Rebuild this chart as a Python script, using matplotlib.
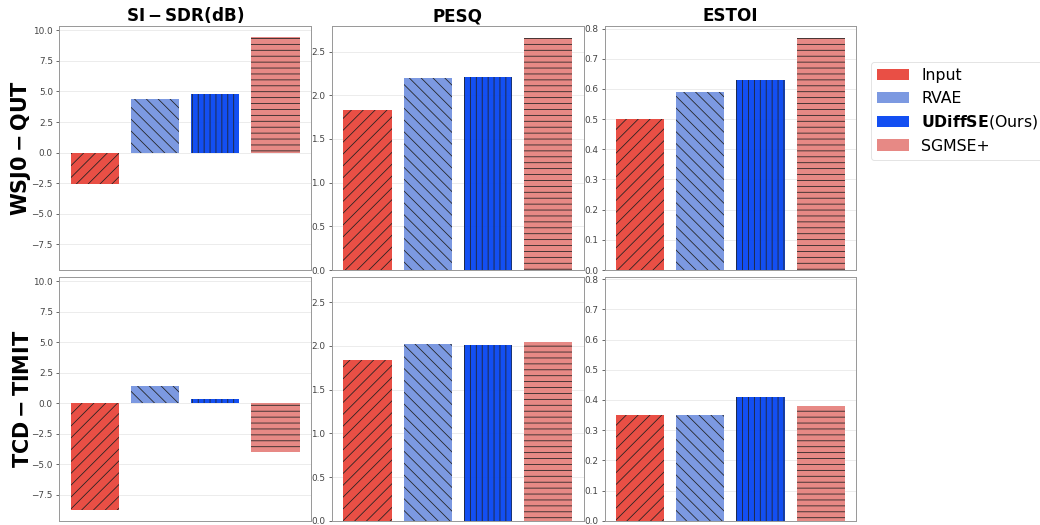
import matplotlib
matplotlib.use('Agg')
import matplotlib.pyplot as plt
from matplotlib.patches import Patch
import numpy as np

methods = ['Input', 'RVAE', 'UDiffSE', 'SGMSE+']
legend_labels = ['Input', 'RVAE', r'$\bf{UDiffSE}$(Ours)', 'SGMSE+']
colors = ['#e8453b', '#7594e0', '#0645f2', '#e6837e']
hatches = ['//', '\\\\', '||', '--']

metrics = [r'$\bf{SI-SDR(dB)}$', 'PESQ', 'ESTOI']
datasets = [r'$\bf{WSJ0-QUT}$', r'$\bf{TCD-TIMIT}$']

# values per dataset, per metric, in method order
wsj_sisdr = [-2.6, 4.4, 4.8, 9.45]
wsj_pesq = [1.83, 2.20, 2.21, 2.66]
wsj_estoi = [0.50, 0.59, 0.63, 0.77]
tcd_sisdr = [-8.7, 1.45, 0.37, -3.95]
tcd_pesq = [1.84, 2.02, 2.01, 2.04]
tcd_estoi = [0.35, 0.35, 0.41, 0.38]

results = [[wsj_sisdr, wsj_pesq, wsj_estoi],
           [tcd_sisdr, tcd_pesq, tcd_estoi]]

plt.rcParams['hatch.linewidth'] = 0.8
plt.rcParams['hatch.color'] = '#222222'

dpi = 71
fig, axes = plt.subplots(2, 3, figsize=(1040 / dpi, 525 / dpi), dpi=dpi, sharey='col')
fig.subplots_adjust(left=0.057, right=0.8234, top=0.9505, bottom=0.0082,
                    wspace=0.083, hspace=0.027)

x = np.arange(len(methods))
for r in range(2):
    for c in range(3):
        ax = axes[r, c]
        vals = results[r][c]
        for i in range(len(methods)):
            ax.bar(x[i], vals[i], width=0.8, color=colors[i], hatch=hatches[i],
                   alpha=0.95, zorder=3)
        ax.set_xticks([])
        ax.grid(axis='y', color='#e2e2e2', linewidth=0.8, linestyle='-', alpha=0.8, zorder=0)
        ax.tick_params(axis='y', labelsize=9, colors='#444444', length=3, width=0.8)
        for s in ax.spines.values():
            s.set_color('#999999')
            s.set_linewidth(1.0)
        if r == 0:
            ax.set_title(metrics[c], fontsize=17, fontweight='bold', pad=5)
        if c == 0:
            ax.set_ylabel(datasets[r], fontsize=21, fontweight='bold', labelpad=-2)

handles = [Patch(facecolor=colors[i], alpha=0.95) for i in range(len(methods))]
fig.legend(handles, legend_labels, loc='upper left', bbox_to_anchor=(0.8375, 0.882),
           borderaxespad=0, fontsize=16, frameon=True, edgecolor='#dddddd',
           handlelength=2.0, labelspacing=0.47)

fig.savefig('out.png', dpi=dpi)
